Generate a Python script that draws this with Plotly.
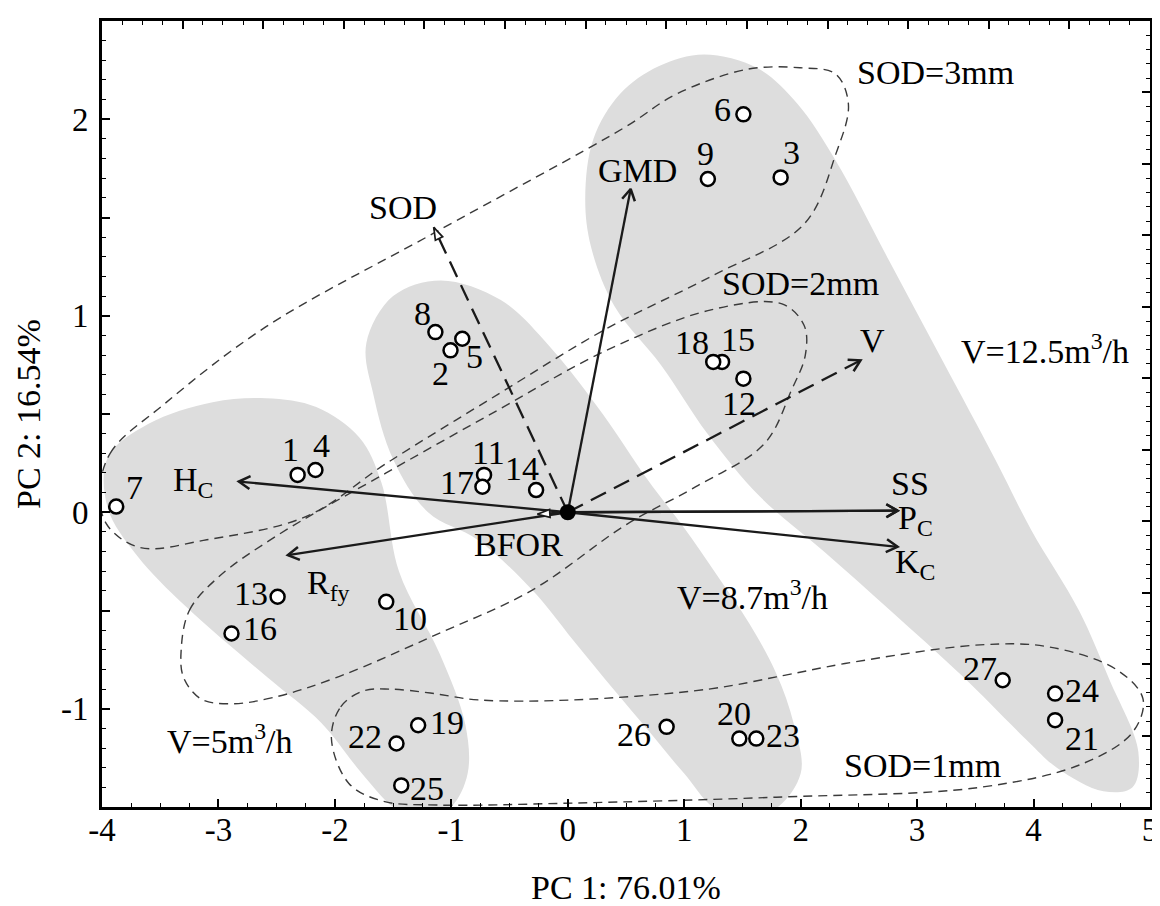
import math
import plotly.graph_objects as go

FONT = "Liberation Serif, Times New Roman, serif"

# ---------------- data ----------------
# sample scores (PC1, PC2)
sample_ids = ["1", "2", "3", "4", "5", "6", "7", "8", "9", "10", "11", "12", "13", "14",
              "15", "16", "17", "18", "19", "20", "21", "22", "23", "24", "25", "26", "27"]
pc1_scores = [-2.32, -1.007, 1.828, -2.167, -0.906, 1.508, -3.878, -1.137, 1.203, -1.559,
              -0.719, 1.508, -2.492, -0.272, 1.325, -2.888, -0.733, 1.249, -1.285, 1.473,
              4.185, -1.471, 1.619, 4.185, -1.43, 0.849, 3.735]
pc2_scores = [0.19, 0.824, 1.704, 0.215, 0.883, 2.025, 0.029, 0.917, 1.696, -0.456,
              0.19, 0.68, -0.43, 0.113, 0.765, -0.617, 0.13, 0.765, -1.084, -1.152,
              -1.058, -1.177, -1.152, -0.923, -1.39, -1.092, -0.855]

# variable loadings (arrow tips)
var_names = ["GMD", "H<sub>C</sub>", "R<sub>fy</sub>", "SS", "P<sub>C</sub>", "K<sub>C</sub>",
             "SOD", "V", "BFOR"]
var_pc1 = [0.54, -2.825, -2.404, 2.832, 2.832, 2.832, -1.151, 2.514, -0.26]
var_pc2 = [1.645, 0.156, -0.218, 0.008, 0.008, -0.176, 1.45, 0.773, -0.01]

# outlines of the shaded flow-rate groups
v5_x = [-2.59, -2.16, -1.79, -1.6, -1.45, -1.1, -0.88, -0.86, -1.0, -1.25, -1.5, -1.78,
        -2.12, -2.58, -3.28, -3.7, -3.95, -3.95, -3.6, -3.05]
v5_y = [0.58, 0.535, 0.38, 0.15, -0.3, -0.72, -1.08, -1.33, -1.5, -1.58, -1.5, -1.32,
        -1.07, -0.84, -0.48, -0.22, 0.02, 0.28, 0.45, 0.56]
v87_x = [-1.09, -0.575, -0.15, 0.3, 0.68, 1.0, 1.27, 1.56, 1.79, 1.94, 2.0, 1.75, 1.3,
         1.0, 0.69, 0.4, 0.045, -0.305, -0.77, -1.2, -1.5, -1.67, -1.73, -1.5]
v87_y = [1.18, 1.08, 0.84, 0.5, 0.17, -0.08, -0.31, -0.567, -0.82, -1.075, -1.33, -1.52,
         -1.52, -1.33, -1.11, -0.906, -0.65, -0.396, -0.142, 0.0, 0.27, 0.6, 0.86, 1.1]
v125_x = [1.17, 1.63, 1.97, 2.3, 2.76, 3.22, 3.67, 3.98, 4.39, 4.65, 4.9, 4.85, 4.6,
          4.2, 3.96, 3.39, 2.77, 2.2, 1.65, 1.2, 0.8, 0.4, 0.2, 0.15, 0.22, 0.45, 0.78]
v125_y = [2.33, 2.26, 2.08, 1.79, 1.28, 0.77, 0.27, -0.09, -0.5, -0.85, -1.22, -1.4,
          -1.42, -1.3, -1.17, -0.835, -0.5, -0.2, 0.08, 0.4, 0.75, 1.05, 1.35, 1.6,
          1.9, 2.13, 2.27]

# outlines of the stand-off-distance groups (dashed)
sod3_x = [-4.02, -3.93, -3.46, -2.594, -1.152, 0.487, 0.93, 1.54, 1.995, 2.30, 2.41, 2.30,
          2.03, 1.23, 0.32, -0.6, -1.56, -2.24, -3.1, -3.67, -3.95]
sod3_y = [0.08, 0.30, 0.553, 0.943, 1.42, 1.958, 2.127, 2.254, 2.262, 2.23, 2.076, 1.82,
          1.467, 1.2, 0.93, 0.6, 0.248, -0.02, -0.14, -0.18, -0.07]
sod2_x = [-3.32, -3.25, -3.0, -2.5, -1.56, -0.6, 0.32, 1.23, 1.84, 2.03, 2.04, 1.92, 1.69,
          1.1, 0.51, -0.305, -1.12, -1.96, -2.53, -2.9, -3.15, -3.3]
sod2_y = [-0.70, -0.5, -0.33, -0.12, 0.2, 0.52, 0.82, 1.03, 1.06, 0.95, 0.8, 0.62, 0.35,
          0.13, -0.06, -0.396, -0.62, -0.835, -0.943, -0.975, -0.95, -0.84]
sod1_x = [-2.03, -1.95, -1.76, -1.53, -1.18, -0.77, 0.045, 1.21, 1.86, 2.38, 3.54, 4.13,
          4.71, 4.94, 4.85, 4.42, 3.54, 1.79, 0.045, -1.12, -1.59, -1.88]
sod1_y = [-1.15, -0.99, -0.91, -0.9, -0.92, -0.955, -0.955, -0.9, -0.83, -0.77, -0.675,
          -0.685, -0.80, -0.95, -1.12, -1.28, -1.40, -1.45, -1.48, -1.49, -1.47, -1.38]

group_texts = ["V=5m<sup>3</sup>/h", "V=8.7m<sup>3</sup>/h", "V=12.5m<sup>3</sup>/h",
               "SOD=1mm", "SOD=2mm", "SOD=3mm"]

x_tick_vals = [-4, -3, -2, -1, 0, 1, 2, 3, 4, 5]
x_tick_text = ["-4", "-3", "-2", "-1", "0", "1", "2", "3", "4", "5"]
y_tick_vals = [-1, 0, 1, 2]
y_tick_text = ["-1", "0", "1", "2"]
y_half_ticks = [-1.5, -0.5, 0.5, 1.5, 2.5]

# ---------------- placement / style (not data) ----------------
X_RANGE = [-4, 5]
Y_RANGE = [-1.5, 2.5]
W, H = 1160, 906
M = dict(l=94, r=12, t=10, b=107)
PX_X = (W - M["l"] - M["r"]) / (X_RANGE[1] - X_RANGE[0])
PX_Y = (H - M["t"] - M["b"]) / (Y_RANGE[1] - Y_RANGE[0])

# label offsets (pixels) for each sample number
label_dx = [-7, -10, 11, 6, 12, -21, 18, -13, -2, 24, 4, -4, -27, -14,
            16, 29, -25, -21, 29, -5, 27, -31, 27, 27, 26, -33, -23]
label_dy = [25, -23, 25, 25, -18, 5, 19, 19, 25, -17, 22, -25, 3, 22,
            22, 5, 4, 19, 3, 25, -18, 7, 3, 3, -3, -8, 12]

# positions of the variable names
var_label_x = [0.6, -3.215, -2.056, 2.941, 2.99, 2.98, -1.411, 2.621, -0.424]
var_label_y = [1.738, 0.156, -0.369, 0.147, -0.04, -0.265, 1.552, 0.875, -0.166]
group_label_x = [-2.9, 1.59, 4.1, 3.047, 1.996, 3.155]
group_label_y = [-1.152, -0.42, 0.833, -1.288, 1.163, 2.237]

GREY = "#dddddd"
INK = "#1a1a1a"
TXT = 34

fig = go.Figure()

# shaded groups
for gx, gy in [(v5_x, v5_y), (v87_x, v87_y), (v125_x, v125_y)]:
    fig.add_trace(go.Scatter(x=gx + gx[:1], y=gy + gy[:1], mode="lines", fill="toself",
                             fillcolor=GREY, line=dict(width=0, shape="spline", smoothing=1.0),
                             hoverinfo="skip", showlegend=False))

# dashed group outlines
for gx, gy in [(sod3_x, sod3_y), (sod2_x, sod2_y), (sod1_x, sod1_y)]:
    fig.add_trace(go.Scatter(x=gx + gx[:1], y=gy + gy[:1], mode="lines",
                             line=dict(width=1.4, color="#3a3a3a", dash="9px,6px",
                                       shape="spline", smoothing=1.0),
                             hoverinfo="skip", showlegend=False))


def screen_dir(dx, dy):
    sx, sy = dx * PX_X, dy * PX_Y
    n = math.hypot(sx, sy)
    return sx / n, sy / n


HEAD_LEN = 13.0      # px
HEAD_HALF = math.radians(30)

dashed_vars = {"SOD", "V"}
open_head_vars = {"SOD", "BFOR"}
for name, vx, vy in zip(var_names, var_pc1, var_pc2):
    ux, uy = screen_dir(vx, vy)
    dash = "17px,9px" if name in dashed_vars else "solid"
    fig.add_trace(go.Scatter(x=[0, vx], y=[0, vy], mode="lines",
                             line=dict(width=2.3, color=INK, dash=dash),
                             hoverinfo="skip", showlegend=False))
    if name in open_head_vars:
        ang = math.degrees(math.atan2(ux, uy))
        fig.add_trace(go.Scatter(x=[vx], y=[vy], mode="markers",
                                 marker=dict(symbol="arrow", size=13, angle=ang, color="white",
                                             line=dict(color=INK, width=1.7)),
                                 hoverinfo="skip", showlegend=False))
    else:
        bx, by = -ux, -uy
        hx, hy = [], []
        for s in (1, -1):
            c, sn = math.cos(s * HEAD_HALF), math.sin(s * HEAD_HALF)
            rx, ry = bx * c - by * sn, bx * sn + by * c
            hx.append(vx + rx * HEAD_LEN / PX_X)
            hy.append(vy + ry * HEAD_LEN / PX_Y)
        fig.add_trace(go.Scatter(x=[hx[0], vx, hx[1]], y=[hy[0], vy, hy[1]], mode="lines",
                                 line=dict(width=2.5, color=INK), hoverinfo="skip",
                                 showlegend=False))

# sample points
fig.add_trace(go.Scatter(x=pc1_scores, y=pc2_scores, mode="markers",
                         marker=dict(symbol="circle", size=14, color="white",
                                     line=dict(color="black", width=2.5)),
                         hoverinfo="skip", showlegend=False))
# origin
fig.add_trace(go.Scatter(x=[0], y=[0], mode="markers",
                         marker=dict(symbol="circle", size=16, color="black"),
                         hoverinfo="skip", showlegend=False))

# dummy traces for the extra tick scales (Statistica-style frame)
fig.add_trace(go.Scatter(x=[None], y=[None], xaxis="x2", yaxis="y2", showlegend=False,
                         hoverinfo="skip"))
fig.add_trace(go.Scatter(x=[None], y=[None], xaxis="x", yaxis="y3", showlegend=False,
                         hoverinfo="skip"))

annotations = []
for sid, sx, sy, dx, dy in zip(sample_ids, pc1_scores, pc2_scores, label_dx, label_dy):
    annotations.append(dict(x=sx, y=sy, xref="x", yref="y", text=sid, showarrow=False,
                            xshift=dx, yshift=dy, font=dict(family=FONT, size=TXT, color="black")))

for name, lx, ly in zip(var_names, var_label_x, var_label_y):
    annotations.append(dict(x=lx, y=ly, xref="x", yref="y", text=name, showarrow=False,
                            font=dict(family=FONT, size=TXT, color="black")))

for t, lx, ly in zip(group_texts, group_label_x, group_label_y):
    annotations.append(dict(x=lx, y=ly, xref="x", yref="y", text=t, showarrow=False,
                            font=dict(family=FONT, size=TXT, color="black")))

# axis titles
annotations.append(dict(x=0.5, y=0, xref="paper", yref="paper", yanchor="middle",
                        yshift=-80, text="PC 1: 76.01%", showarrow=False,
                        font=dict(family=FONT, size=34, color="black")))
annotations.append(dict(x=0, y=0.5, xref="paper", yref="paper", xanchor="center",
                        xshift=-74, text="PC 2: 16.54%", textangle=-90, showarrow=False,
                        font=dict(family=FONT, size=34, color="black")))

tick_font = dict(family=FONT, size=33, color="black")
major = dict(ticks="inside", ticklen=8, tickwidth=1.7, tickcolor="black")


def minor(step):
    return dict(dtick=step, tick0=0, ticks="inside", ticklen=4, tickwidth=1.4,
                tickcolor="black", showgrid=False)


fig.update_layout(
    width=W, height=H, margin=M,
    paper_bgcolor="white", plot_bgcolor="white",
    showlegend=False,
    annotations=annotations,
    xaxis=dict(range=X_RANGE, tickvals=x_tick_vals, ticktext=x_tick_text, **major,
               minor=minor(0.25),
               showline=True, linecolor="black", linewidth=2.6, mirror=True,
               showgrid=False, zeroline=False, tickfont=tick_font, ticklabelstandoff=-8),
    yaxis=dict(range=Y_RANGE, tickvals=y_tick_vals, ticktext=y_tick_text, **major,
               minor=minor(0.1),
               showline=True, linecolor="black", linewidth=2.6, mirror=True,
               showgrid=False, zeroline=False, tickfont=tick_font, ticklabelstandoff=4),
    yaxis3=dict(overlaying="y", side="left", anchor="x", type="linear", range=Y_RANGE,
                tickvals=y_half_ticks, showticklabels=False, **major,
                showgrid=False, zeroline=False, showline=False),
    xaxis2=dict(overlaying="x", side="top", anchor="y", type="linear", range=[0, 13],
                tickvals=list(range(0, 14)), showticklabels=False, **major,
                minor=minor(0.25),
                showgrid=False, zeroline=False, showline=False),
    yaxis2=dict(overlaying="y", side="right", anchor="x", type="linear", range=[0, 11],
                tickvals=list(range(0, 12)), showticklabels=False, **major,
                minor=minor(0.2),
                showgrid=False, zeroline=False, showline=False),
)

fig.write_html("out.html")
